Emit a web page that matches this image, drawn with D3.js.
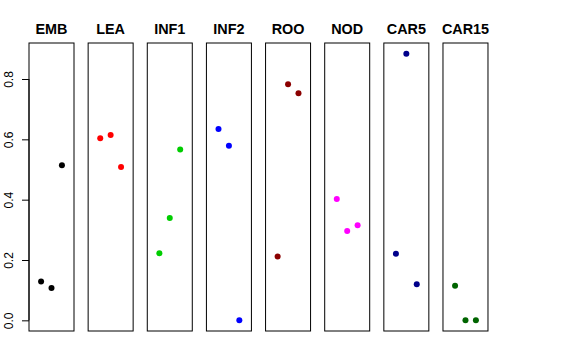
<!DOCTYPE html>
<html><head><meta charset="utf-8">
<script src="https://cdn.jsdelivr.net/npm/d3@7"></script>
<style>body{margin:0;background:#fff}svg{display:block}</style>
</head><body><svg id="c" width="576" height="360"></svg>
<script>
const panels = ["EMB","LEA","INF1","INF2","ROO","NOD","CAR5","CAR15"];
const colors = ["#000000","#FF0000","#00CD00","#0000FF","#8B0000","#FF00FF","#00008B","#006400"];
const values = [
  [0.129,0.107,0.514],
  [0.604,0.614,0.508],
  [0.222,0.339,0.566],
  [0.634,0.579,0.000],
  [0.212,0.783,0.753],
  [0.402,0.296,0.315],
  [0.221,0.884,0.120],
  [0.115,0.000,0.000]
];
const yTicks = [0,0.2,0.4,0.6,0.8];

(function(){
const svg = d3.select("#c");
const pTop = 43, pBottom = 331, pw = 45, left0 = 29, step = 59.14;
const ymax = 0.884, ypad = ymax*0.04;
const y = d3.scaleLinear().domain([-ypad, ymax+ypad]).range([pBottom, pTop]);
const x = d3.scaleLinear().domain([-0.16, 4.16]).range([0, pw]);

panels.forEach((name,i)=>{
  const x0 = left0 + i*step;
  const g = svg.append("g").attr("transform",`translate(${x0},0)`);
  g.append("rect").attr("x",0).attr("y",pTop).attr("width",pw).attr("height",pBottom-pTop)
    .attr("fill","none").attr("stroke","#000").attr("stroke-width",1);
  g.append("text").attr("x",pw/2).attr("y",34).attr("text-anchor","middle")
    .attr("font-family","Liberation Sans, Arial, sans-serif").attr("font-weight","bold")
    .attr("font-size","14.4px").text(name);
  g.selectAll("circle").data(values[i]).join("circle")
    .attr("cx",(d,j)=>x(j+1)).attr("cy",d=>y(d)).attr("r",3)
    .attr("fill",colors[i]);
  if(i===0){
    const ax = g.append("g").call(d3.axisLeft(y).tickValues(yTicks).tickSize(7).tickFormat(d3.format(".1f")));
    ax.select(".domain").attr("d",`M0,${y(0)}V${y(0.8)}`).attr("stroke","#000");
    ax.selectAll(".tick line").attr("stroke","#000");
    ax.selectAll(".tick text").attr("font-family","Liberation Sans, Arial, sans-serif").attr("font-size","12px")
      .attr("fill","#000").attr("x",null).attr("dy",null)
      .attr("text-anchor","middle").attr("transform","translate(-16,0) rotate(-90)");
  }
});
})();
</script></body></html>
